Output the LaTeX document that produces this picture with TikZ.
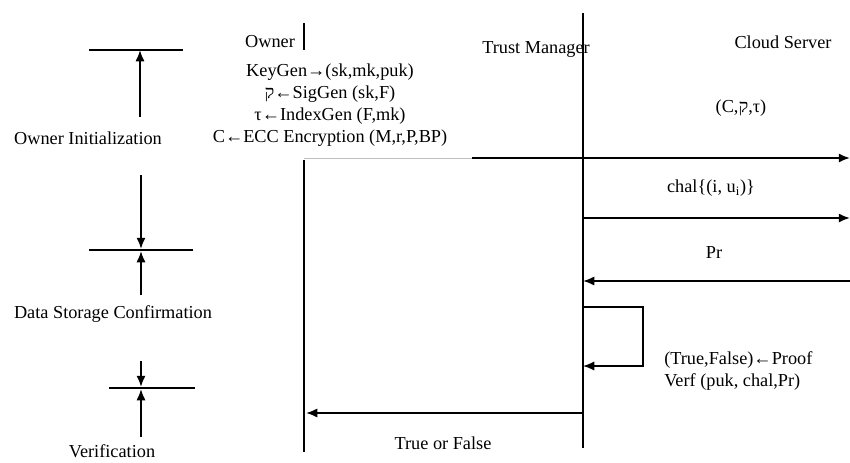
\documentclass[tikz,border=0pt]{standalone}
\usepackage{fontspec}
\setmainfont{Liberation Serif}
\newfontfamily\hebfont{Liberation Serif}
\usetikzlibrary{arrows.meta}

\begin{document}
\begin{tikzpicture}[x=0.025cm,y=-0.025cm,>={Latex[length=8pt,width=6.5pt]},
  every node/.style={font=\fontsize{13}{15.6}\selectfont,inner sep=0pt},
  msg/.style={->,line width=1.3pt},
  life/.style={line width=1.1pt},
  bar/.style={line width=1pt}]
\useasboundingbox (0,0) rectangle (850,462);

% actors
\node (owner) at (270,42) {Owner};
\node (tm) at (536,49) {Trust Manager};
\node (cs) at (783,42) {Cloud Server};

% life lines
\coordinate (own bar top) at (304,23);
\coordinate (own bar bot) at (304,50);
\coordinate (own top) at (304,160);
\coordinate (own bot) at (304,452);
\coordinate (tm top) at (583,13);
\coordinate (tm bot) at (583,448);
\draw[life] (own bar top) -- (own bar bot);
\draw[life] (own top) -- (own bot);
\draw[life] (tm top) -- (tm bot);

% owner setup
\node[align=center] (setup) at (330,105)
  {KeyGen→(sk,mk,puk)\\{\hebfont ק}←SigGen (sk,F)\\τ←IndexGen (F,mk)\\C←ECC Encryption (M,r,P,BP)};

% messages
\coordinate (up own) at (304,158);
\coordinate (up start) at (472,158);
\coordinate (up cs) at (850,158);
\draw[black!25,thin] (up own) -- (up start);
\draw[msg] (up start) -- (up cs);
\node (upload) at (741,108) {(C,{\hebfont ק},τ)};

\coordinate (chal tm) at (583,218);
\coordinate (chal cs) at (850,218);
\draw[msg] (chal tm) -- (chal cs);
\node (chal) at (711,188) {chal\{(i, u\textsubscript{i})\}};

\coordinate (pr cs) at (850,281);
\coordinate (pr tm) at (583,281);
\draw[msg] (pr cs) -- (pr tm);
\node (pr) at (714,253) {Pr};

\coordinate (loop a) at (583,307);
\coordinate (loop b) at (643,307);
\coordinate (loop c) at (643,366);
\coordinate (loop d) at (583,366);
\draw[msg,line width=1.1pt] (loop a) -- (loop b) -- (loop c) -- (loop d);
\node[align=left,anchor=west] (verf) at (664,371) {(True,False)←Proof\\Verf (puk, chal,Pr)};

\coordinate (res tm) at (583,413);
\coordinate (res own) at (306,413);
\draw[msg] (res tm) -- (res own);
\node (res) at (443,443) {True or False};

% phases
\node (init) at (88,138) {Owner Initialization};
\node (store) at (113,314) {Data Storage Confirmation};
\node (verif) at (112,451) {Verification};

\coordinate (b1 l) at (89,50);
\coordinate (b1 r) at (183,50);
\coordinate (b2 l) at (89,250);
\coordinate (b2 r) at (193,250);
\coordinate (b3 l) at (109,388);
\coordinate (b3 r) at (195,388);
\draw[bar] (b1 l) -- (b1 r);
\draw[bar] (b2 l) -- (b2 r);
\draw[bar] (b3 l) -- (b3 r);

\draw[msg] (140,117) -- (140,50);
\draw[msg] (141,175) -- (141,249);
\draw[msg] (141,295) -- (141,251);
\draw[msg] (141,361) -- (141,387);
\draw[msg] (141,437) -- (141,389);
\end{tikzpicture}
\end{document}
